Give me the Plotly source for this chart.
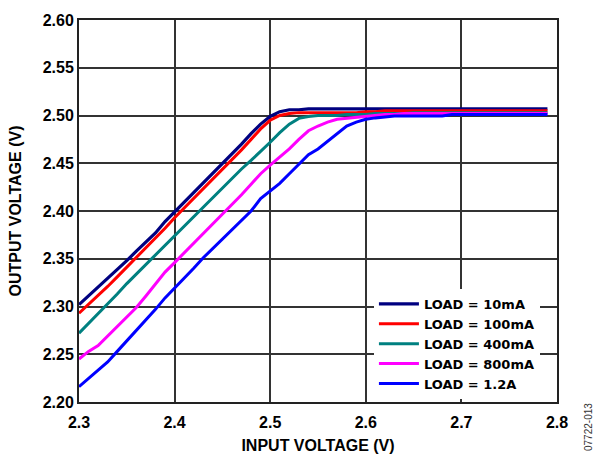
import plotly.graph_objects as go

VIN = [2.30, 2.31, 2.32, 2.33, 2.34, 2.35, 2.36, 2.37, 2.38, 2.39,
       2.40, 2.41, 2.42, 2.43, 2.44, 2.45, 2.46, 2.47, 2.48, 2.49,
       2.50, 2.51, 2.52, 2.53, 2.54, 2.55, 2.56, 2.57, 2.58, 2.59,
       2.60, 2.61, 2.62, 2.63, 2.64, 2.65, 2.66, 2.67, 2.68, 2.69,
       2.70, 2.71, 2.72, 2.73, 2.74, 2.75, 2.76, 2.77, 2.78, 2.79]

LOAD_10MA = [2.302, 2.311, 2.320, 2.329, 2.338, 2.348, 2.358, 2.367, 2.377, 2.389,
             2.399, 2.410, 2.420, 2.430, 2.440, 2.450, 2.460, 2.470, 2.481, 2.491,
             2.499, 2.504, 2.506, 2.506, 2.507, 2.507, 2.507, 2.507, 2.507, 2.507,
             2.507, 2.507, 2.507, 2.507, 2.507, 2.507, 2.507, 2.507, 2.507, 2.507,
             2.507, 2.507, 2.507, 2.507, 2.507, 2.507, 2.507, 2.507, 2.507, 2.507]

LOAD_100MA = [2.293, 2.302, 2.311, 2.321, 2.331, 2.341, 2.351, 2.361, 2.372, 2.382,
              2.393, 2.403, 2.413, 2.424, 2.434, 2.444, 2.454, 2.464, 2.475, 2.486,
              2.495, 2.500, 2.502, 2.503, 2.503, 2.503, 2.503, 2.503, 2.503, 2.503,
              2.504, 2.504, 2.505, 2.505, 2.505, 2.505, 2.505, 2.505, 2.505, 2.505,
              2.505, 2.505, 2.505, 2.505, 2.505, 2.505, 2.505, 2.505, 2.505, 2.505]

LOAD_400MA = [2.272, 2.282, 2.292, 2.302, 2.313, 2.324, 2.334, 2.344, 2.354, 2.364,
              2.374, 2.385, 2.395, 2.405, 2.415, 2.425, 2.435, 2.444, 2.453, 2.462,
              2.472, 2.482, 2.491, 2.497, 2.499, 2.500, 2.500, 2.500, 2.501, 2.501,
              2.501, 2.502, 2.502, 2.502, 2.502, 2.503, 2.503, 2.503, 2.503, 2.503,
              2.503, 2.503, 2.503, 2.503, 2.503, 2.503, 2.503, 2.503, 2.503, 2.503]

LOAD_800MA = [2.245, 2.253, 2.259, 2.269, 2.279, 2.288, 2.299, 2.311, 2.324, 2.336,
              2.346, 2.356, 2.366, 2.377, 2.387, 2.397, 2.407, 2.417, 2.428, 2.439,
              2.448, 2.456, 2.465, 2.475, 2.484, 2.489, 2.493, 2.496, 2.497, 2.498,
              2.499, 2.500, 2.501, 2.501, 2.502, 2.502, 2.502, 2.502, 2.502, 2.502,
              2.502, 2.502, 2.502, 2.502, 2.502, 2.502, 2.502, 2.502, 2.502, 2.502]

LOAD_1A2 = [2.216, 2.225, 2.233, 2.242, 2.253, 2.264, 2.274, 2.285, 2.297, 2.309,
            2.319, 2.329, 2.340, 2.351, 2.361, 2.370, 2.380, 2.391, 2.400, 2.413,
            2.421, 2.429, 2.439, 2.449, 2.459, 2.465, 2.473, 2.481, 2.489, 2.493,
            2.496, 2.4975, 2.4985, 2.4995, 2.4995, 2.4995, 2.4995, 2.4995, 2.4995, 2.501,
            2.501, 2.501, 2.501, 2.501, 2.501, 2.501, 2.501, 2.501, 2.501, 2.501]

SERIES = [
    ("LOAD = 10mA", LOAD_10MA, "#000080", 3.2),
    ("LOAD = 100mA", LOAD_100MA, "#FF0000", 3.0),
    ("LOAD = 400mA", LOAD_400MA, "#008080", 3.0),
    ("LOAD = 800mA", LOAD_800MA, "#FF00FF", 3.0),
    ("LOAD = 1.2A", LOAD_1A2, "#0000FF", 3.0),
]

X_TICKS = [2.3, 2.4, 2.5, 2.6, 2.7, 2.8]
X_TICK_TEXT = ["2.3", "2.4", "2.5", "2.6", "2.7", "2.8"]
Y_TICKS = [2.20, 2.25, 2.30, 2.35, 2.40, 2.45, 2.50, 2.55, 2.60]
Y_TICK_TEXT = ["2.20", "2.25", "2.30", "2.35", "2.40", "2.45", "2.50", "2.55", "2.60"]

FONT = "Arial, 'Liberation Sans', sans-serif"
LEGEND_FONT = "'DejaVu Sans', Arial, sans-serif"

fig = go.Figure()
for name, ys, color, w in SERIES:
    fig.add_trace(go.Scatter(x=VIN, y=ys, mode="lines", name=name,
                             line=dict(color=color, width=w)))

fig.update_layout(
    width=593, height=454,
    margin=dict(l=79, r=36, t=20, b=52),
    paper_bgcolor="white", plot_bgcolor="white",
    font=dict(family=FONT, size=16, color="black"),
    showlegend=True,
    legend=dict(
        x=0.617, y=0.296, xanchor="left", yanchor="top",
        bgcolor="white", borderwidth=0,
        font=dict(family=LEGEND_FONT, size=13, color="black", weight="bold"),
        itemwidth=40, tracegroupgap=0,
    ),
    shapes=[dict(type="rect", xref="paper", yref="paper",
                 x0=0.615, x1=1.0, y0=0.0, y1=0.309,
                 fillcolor="white", line=dict(width=0), layer="between")],
    annotations=[dict(text="07722-013", xref="paper", yref="paper",
                      x=1.0, y=0.0, xanchor="center", yanchor="middle",
                      xshift=31, yshift=-25, textangle=-90, showarrow=False,
                      font=dict(family=FONT, size=10, color="#333333"))],
)

fig.update_xaxes(
    range=[2.3, 2.8], tickvals=X_TICKS, ticktext=X_TICK_TEXT,
    automargin=False,
    showgrid=True, gridcolor="#333333", gridwidth=1.5,
    showline=True, linecolor="#222222", linewidth=2, mirror=True,
    zeroline=False, ticks="", ticklabelstandoff=5,
    tickfont=dict(family=FONT, size=16, color="black", weight="bold"),
    title=dict(text="<b>INPUT VOLTAGE (V)</b>", standoff=15,
               font=dict(family=FONT, size=16, color="black")),
)
fig.update_yaxes(
    range=[2.2, 2.6], tickvals=Y_TICKS, ticktext=Y_TICK_TEXT,
    automargin=False,
    showgrid=True, gridcolor="#333333", gridwidth=1.5,
    showline=True, linecolor="#222222", linewidth=2, mirror=True,
    zeroline=False, ticks="",
    tickfont=dict(family=FONT, size=16, color="black", weight="bold"),
    title=dict(text="<b>OUTPUT VOLTAGE (V)</b>", standoff=17,
               font=dict(family=FONT, size=16, color="black")),
)

fig.write_html("out.html", config={"displayModeBar": False},
               post_script="document.body.style.margin='0';")
